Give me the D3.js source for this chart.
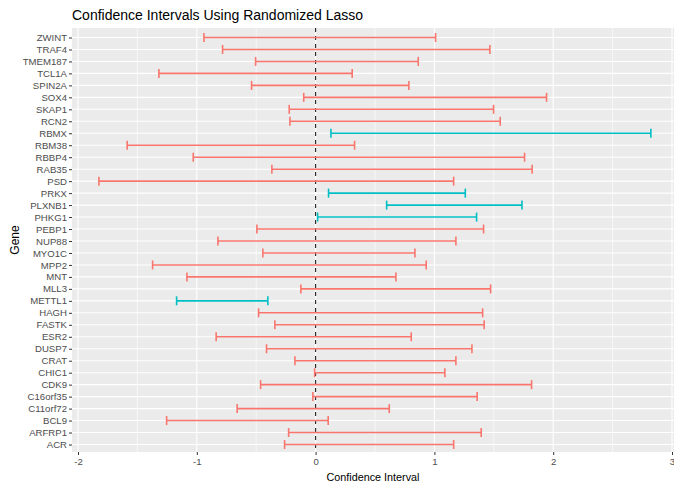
<!DOCTYPE html>
<html><head><meta charset="utf-8">
<script src="https://cdn.jsdelivr.net/npm/d3@7"></script>
<style>body{margin:0;background:#fff}svg{display:block}text{font-family:"Liberation Sans",Arial,sans-serif}</style>
</head><body>
<svg id="c" width="674" height="486"></svg>
<script>
const genes = ["ZWINT","TRAF4","TMEM187","TCL1A","SPIN2A","SOX4","SKAP1","RCN2","RBMX","RBM38","RBBP4","RAB35","PSD","PRKX","PLXNB1","PHKG1","PEBP1","NUP88","MYO1C","MPP2","MNT","MLL3","METTL1","HAGH","FASTK","ESR2","DUSP7","CRAT","CHIC1","CDK9","C16orf35","C11orf72","BCL9","ARFRP1","ACR"];
const lower = [-0.94,-0.783,-0.505,-1.319,-0.539,-0.10,-0.222,-0.216,0.129,-1.586,-1.03,-0.368,-1.824,0.109,0.598,0.017,-0.494,-0.822,-0.444,-1.372,-1.083,-0.124,-1.17,-0.48,-0.343,-0.837,-0.413,-0.174,-0.008,-0.463,-0.023,-0.66,-1.254,-0.227,-0.261];
const upper = [1.01,1.467,0.864,0.308,0.785,1.944,1.498,1.554,2.822,0.328,1.759,1.823,1.162,1.26,1.737,1.355,1.414,1.181,0.836,0.931,0.676,1.473,-0.402,1.406,1.419,0.805,1.316,1.181,1.088,1.818,1.36,0.62,0.106,1.394,1.162];
const significant = lower.map((l,i)=> l>0 || upper[i]<0);
const xTicks = [-2,-1,0,1,2,3];
const xMinor = [-1.5,-0.5,0.5,1.5,2.5];
const colors = {no:"#F8766D", yes:"#00BFC4"};

const svg = d3.select("#c");
const P = {l:72, r:677, t:28, b:452};
const x = d3.scaleLinear().domain([-2,3]).range([78,672]);
const y = d3.scalePoint().domain(genes).range([37.5,444.5]);

svg.append("rect").attr("x",P.l).attr("y",P.t).attr("width",P.r-P.l).attr("height",P.b-P.t).attr("fill","#EBEBEB");
const g = svg.append("g");
g.selectAll(".minor").data(xMinor).join("line")
 .attr("x1",d=>x(d)).attr("x2",d=>x(d)).attr("y1",P.t).attr("y2",P.b)
 .attr("stroke","#fff").attr("stroke-width",0.6);
g.selectAll(".majx").data(xTicks).join("line")
 .attr("x1",d=>x(d)).attr("x2",d=>x(d)).attr("y1",P.t).attr("y2",P.b)
 .attr("stroke","#fff").attr("stroke-width",1.1);
g.selectAll(".majy").data(genes).join("line")
 .attr("x1",P.l).attr("x2",P.r).attr("y1",d=>y(d)).attr("y2",d=>y(d))
 .attr("stroke","#fff").attr("stroke-width",1.1);

// dashed zero line
svg.append("line").attr("x1",x(0)).attr("x2",x(0)).attr("y1",P.t).attr("y2",P.b)
 .attr("stroke","#222").attr("stroke-width",1.1).attr("stroke-dasharray","4,4");

// error bars
const eb = svg.append("g").selectAll("g").data(genes).join("g")
 .attr("stroke",(d,i)=>significant[i]?colors.yes:colors.no).attr("stroke-width",1.6);
eb.append("line").attr("x1",(d,i)=>x(lower[i])).attr("x2",(d,i)=>x(upper[i])).attr("y1",d=>y(d)).attr("y2",d=>y(d));
eb.append("line").attr("x1",(d,i)=>x(lower[i])).attr("x2",(d,i)=>x(lower[i])).attr("y1",d=>y(d)-4.5).attr("y2",d=>y(d)+4.5);
eb.append("line").attr("x1",(d,i)=>x(upper[i])).attr("x2",(d,i)=>x(upper[i])).attr("y1",d=>y(d)-4.5).attr("y2",d=>y(d)+4.5);

// axes
const xa = svg.append("g").attr("transform",`translate(0,${P.b})`)
 .call(d3.axisBottom(x).tickValues(xTicks).tickSize(3).tickPadding(3).tickFormat(d3.format("d")));
const ya = svg.append("g").attr("transform",`translate(${P.l},0)`)
 .call(d3.axisLeft(y).tickSize(3).tickPadding(2));
[xa,ya].forEach(a=>{
  a.select(".domain").remove();
  a.selectAll(".tick line").attr("stroke","#333").attr("stroke-width",1);
  a.selectAll(".tick text").attr("fill","#4D4D4D").style("font-size","9.6px").style("font-family","'Liberation Sans',Arial,sans-serif");
});
xa.selectAll(".tick text").text(d=>d<0?"-"+Math.abs(d):d);

svg.append("text").attr("x",(P.l+P.r)/2 - 1.5).attr("y",481).attr("text-anchor","middle")
 .style("font-size","11.5px").attr("fill","#000")
 .attr("textLength",93).attr("lengthAdjust","spacingAndGlyphs").text("Confidence Interval");
svg.append("text").attr("transform",`translate(19,${(P.t+P.b)/2}) rotate(-90)`).attr("text-anchor","middle")
 .style("font-size","12px").attr("fill","#000").text("Gene");
svg.append("text").attr("x",P.l).attr("y",20).style("font-size","15.5px").attr("fill","#000")
 .attr("textLength",291).attr("lengthAdjust","spacingAndGlyphs")
 .text("Confidence Intervals Using Randomized Lasso");
</script>
</body></html>
